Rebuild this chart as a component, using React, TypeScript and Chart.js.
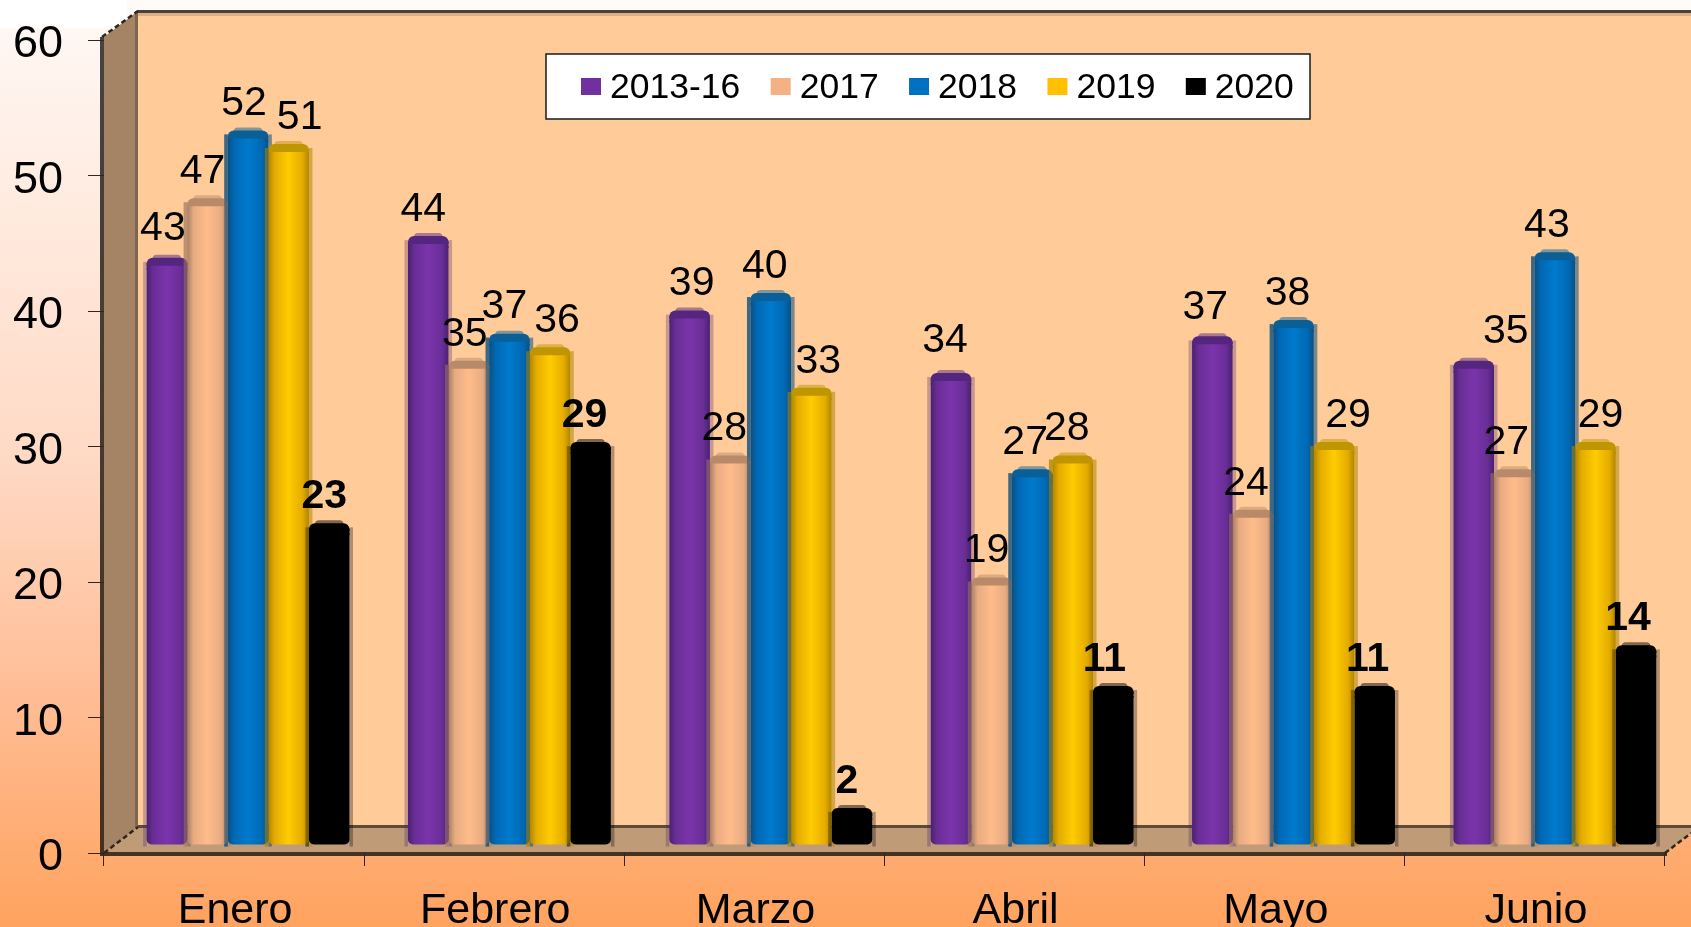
import React, { useEffect, useRef } from "react";
import { Chart, registerables } from "chart.js";

Chart.register(...registerables);

const months = ["Enero", "Febrero", "Marzo", "Abril", "Mayo", "Junio"];
const seriesNames = ["2013-16", "2017", "2018", "2019", "2020"];
const values2013 = [42.6, 44.2, 38.7, 34.1, 36.8, 35];
const values2017 = [47, 35, 28, 19, 24, 27];
const values2018 = [52, 37, 40, 27, 38, 43];
const values2019 = [51, 36, 33, 28, 29, 29];
const values2020 = [23, 29, 2, 11, 11, 14];
const yTicks = [0, 10, 20, 30, 40, 50, 60];

const seriesValues = [values2013, values2017, values2018, values2019, values2020];
const swatches = ["#7030A0", "#F4B183", "#0070C0", "#FFC000", "#000000"];
// edge, shoulder, centre, cap
const shades = [
  ["#4A2170", "#692E96", "#7B34AB", "#55267F"],
  ["#A87F62", "#E8AB82", "#FFBC8A", "#B98A6A"],
  ["#0B4F80", "#0069B5", "#007ACC", "#0A5F96"],
  ["#B08600", "#E5AC00", "#FFCC00", "#BF9500"],
  ["#000000", "#000000", "#000000", "#000000"],
];
const rimAlpha = [0.3, 0.5, 0.55, 0.55, 0.3];
// hand-placed label shifts of the original (per series, per month)
const labelShift = [
  [-4, -5, 2, -6, -7, 32],
  [-5, -4, -6, -5, -7, -8],
  [-4, -5, -6, -7, -6, -8],
  [11, 7, 7, -6, 14, 5],
  [-5, -6, -5, -9, -7, -8],
];
const firstSeriesLabelLift = [3, 0, 0, 6, 2, 3];

const FONT = '"Liberation Sans", Arial, sans-serif';
const SX = 1.0046;
const TX = 12.9;
const DY = -8;
const DEPTH_X = 34;
const DEPTH_Y = 26;

const framePlugin = {
  id: "frame",
  beforeDraw(chart: any) {
    const ctx = chart.ctx;
    const { left, right, top, bottom } = chart.chartArea;
    const W = chart.width;
    ctx.save();
    ctx.fillStyle = "#FFFFFF";
    ctx.fillRect(0, 0, left + 23, 28);
    ctx.fillStyle = "#FFFBF8";
    ctx.fillRect(left + 23, 0, W, 10);
    const backL = left + DEPTH_X;
    const backB = bottom - DEPTH_Y;
    const backT = top - DEPTH_Y - 3;
    // back wall
    ctx.fillStyle = "#FFCC99";
    ctx.fillRect(backL, backT, W - backL, backB - backT);
    ctx.fillStyle = "#E0AE80";
    ctx.fillRect(backL, backT + 2, W - backL, 3);
    ctx.fillStyle = "#46433F";
    ctx.fillRect(backL - 1, backT - 1, W - backL + 1, 3);
    // side wall
    ctx.fillStyle = "#A58465";
    ctx.beginPath();
    ctx.moveTo(left, top - 3);
    ctx.lineTo(backL, backT);
    ctx.lineTo(backL, backB);
    ctx.lineTo(left, bottom);
    ctx.closePath();
    ctx.fill();
    ctx.fillStyle = "#7D6650";
    ctx.fillRect(backL - 3, backT, 3, backB - backT);
    // floor
    ctx.fillStyle = "#BF9B78";
    ctx.beginPath();
    ctx.moveTo(left, bottom);
    ctx.lineTo(backL, backB);
    ctx.lineTo(W, backB);
    ctx.lineTo(W, bottom - (W - right) * (DEPTH_Y / DEPTH_X));
    ctx.lineTo(right, bottom);
    ctx.closePath();
    ctx.fill();
    ctx.fillStyle = "#5E4A38";
    ctx.fillRect(backL, backB - 2, W - backL, 3);
    ctx.fillStyle = "#46301F";
    ctx.fillRect(left - 2, bottom - 1, right - left + 4, 4);
    // front-left edge
    const edge = ctx.createLinearGradient(0, top, 0, bottom);
    edge.addColorStop(0, "#46433F");
    edge.addColorStop(1, "#46301F");
    ctx.fillStyle = edge;
    ctx.fillRect(left - 4, top - 3, 4, bottom - top + 6);
    // corner diagonals
    ctx.strokeStyle = "#2E2620";
    ctx.lineWidth = 2.5;
    ctx.setLineDash([5, 3]);
    ctx.beginPath();
    ctx.moveTo(left, bottom);
    ctx.lineTo(backL, backB);
    ctx.moveTo(left - 2, top - 3);
    ctx.lineTo(backL, backT);
    ctx.moveTo(right, bottom);
    ctx.lineTo(W, bottom - (W - right) * (DEPTH_Y / DEPTH_X));
    ctx.stroke();
    ctx.restore();
  },
};

function rim(ctx: any, el: any, j: number, leftOnly: boolean) {
  const x0 = el.x - el.width / 2;
  const x1 = el.x + el.width / 2;
  ctx.save();
  ctx.globalAlpha = rimAlpha[j];
  ctx.fillStyle = shades[j][0];
  ctx.fillRect(x0 - 3.5, el.y - 6, 3.5, el.base - el.y + 8);
  if (!leftOnly) ctx.fillRect(x1, el.y - 6, 3.5, el.base - el.y + 8);
  ctx.restore();
}

const cylinderPlugin = {
  id: "cylinder",
  beforeDatasetsDraw(chart: any) {
    const ctx = chart.ctx;
    ctx.save();
    ctx.transform(SX, 0, 0, 1, TX, DY);
    chart.data.datasets.forEach((_: any, j: number) => {
      chart.getDatasetMeta(j).data.forEach((el: any) => rim(ctx, el, j, false));
    });
  },
  beforeDatasetDraw(chart: any, args: any) {
    const ctx = chart.ctx;
    const s = shades[args.index];
    args.meta.data.forEach((el: any) => {
      const x0 = el.x - el.width / 2;
      const x1 = el.x + el.width / 2;
      const g = ctx.createLinearGradient(x0, 0, x1, 0);
      g.addColorStop(0, s[0]);
      g.addColorStop(0.16, s[1]);
      g.addColorStop(0.5, s[2]);
      g.addColorStop(0.84, s[1]);
      g.addColorStop(1, s[0]);
      el.options = { ...el.options, backgroundColor: g };
      el.$grad = g;
    });
  },
  afterDatasetDraw(chart: any, args: any) {
    const ctx = chart.ctx;
    const s = shades[args.index];
    args.meta.data.forEach((el: any) => {
      const rx = el.width / 2;
      // faint rim of the top, then the darker band of the lid
      ctx.save();
      ctx.globalAlpha = 0.5;
      ctx.fillStyle = s[3];
      ctx.beginPath();
      ctx.roundRect(el.x - rx + 6, el.y - 13, el.width - 12, 6, [4, 4, 0, 0]);
      ctx.fill();
      ctx.restore();
      ctx.fillStyle = el.$grad;
      ctx.fillRect(el.x - rx, el.y - 5, el.width, 7);
      ctx.fillStyle = s[3];
      ctx.beginPath();
      ctx.roundRect(el.x - rx, el.y - 10, el.width, 8, [6, 6, 0, 0]);
      ctx.fill();
    });
  },
  afterDatasetsDraw(chart: any) {
    const ctx = chart.ctx;
    for (let j = 1; j < chart.data.datasets.length; j++) {
      chart.getDatasetMeta(j).data.forEach((el: any) => rim(ctx, el, j, true));
    }
    ctx.restore();
    ctx.save();
    ctx.textAlign = "center";
    ctx.textBaseline = "middle";
    ctx.fillStyle = "#000000";
    chart.data.datasets.forEach((ds: any, j: number) => {
      const meta = chart.getDatasetMeta(j);
      ctx.font = `${j === 4 ? "bold " : ""}41px ${FONT}`;
      meta.data.forEach((el: any, i: number) => {
        const lift = j === 0 ? firstSeriesLabelLift[i] : 0;
        ctx.fillText(String(Math.round(ds.data[i])), SX * el.x + TX + labelShift[j][i], el.y + DY - 36.5 - lift);
      });
    });
    ctx.restore();
    // legend
    const box = { l: 546, t: 54, w: 764, h: 65 };
    ctx.save();
    ctx.fillStyle = "#FFFFFF";
    ctx.fillRect(box.l, box.t, box.w, box.h);
    ctx.strokeStyle = "#1A1A1A";
    ctx.lineWidth = 1.5;
    ctx.strokeRect(box.l, box.t, box.w, box.h);
    let x = 581;
    ctx.font = `35.5px ${FONT}`;
    ctx.textBaseline = "middle";
    ctx.textAlign = "left";
    chart.data.datasets.forEach((ds: any, j: number) => {
      ctx.fillStyle = swatches[j];
      ctx.fillRect(x, 78, 20, 17);
      ctx.fillStyle = "#000000";
      ctx.fillText(ds.label, x + 29, 88);
      x += 29 + ctx.measureText(ds.label).width + 30.4;
    });
    ctx.restore();
  },
};

export default function App() {
  const ref = useRef<HTMLCanvasElement>(null);
  useEffect(() => {
    document.body.style.margin = "0";
    const chart = new Chart(ref.current as any, {
      type: "bar",
      data: {
        labels: months,
        datasets: seriesNames.map((name, j) => ({
          label: name,
          data: seriesValues[j],
          backgroundColor: swatches[j],
          borderWidth: 0,
          borderSkipped: false,
          borderRadius: { topLeft: 0, topRight: 0, bottomLeft: 5, bottomRight: 5 },
          clip: false as any,
        })),
      },
      options: {
        responsive: false,
        animation: false,
        layout: { padding: { left: 0, right: 26, top: 40, bottom: 0 } },
        datasets: { bar: { categoryPercentage: 0.7763, barPercentage: 1 } } as any,
        plugins: { legend: { display: false }, tooltip: { enabled: false } },
        scales: {
          x: {
            offset: true,
            grid: { drawOnChartArea: false, tickLength: 13, tickColor: "#2E2620", offset: true },
            border: { display: false },
            ticks: { color: "#000000", font: { family: FONT, size: 43 }, padding: 19, maxRotation: 0, labelOffset: 1 },
            afterFit: (s: any) => { s.height = 74; s.paddingLeft = 0; s.paddingRight = 0; },
          },
          y: {
            min: 0,
            max: 60,
            afterBuildTicks: (s: any) => { s.ticks = yTicks.map((v) => ({ value: v })); },
            grid: { drawOnChartArea: false, tickLength: 16, tickColor: "#2E2620" },
            border: { display: false },
            ticks: { color: "#000000", font: { family: FONT, size: 45 }, padding: 25, labelOffset: 5 },
            afterFit: (s: any) => { s.width = 104; s.paddingTop = 0; s.paddingBottom = 0; },
          },
        },
      },
      plugins: [framePlugin, cylinderPlugin],
    } as any);
    return () => chart.destroy();
  }, []);
  return (
    <div
      style={{
        position: "fixed",
        left: 0,
        top: 0,
        width: 1691,
        height: 927,
        overflow: "hidden",
        background: "linear-gradient(180deg,#FFF9F6 0%,#FFD9C4 50%,#FFBD95 75%,#FFA35F 100%)",
      }}
    >
      <canvas ref={ref} width={1691} height={927} style={{ display: "block" }} />
    </div>
  );
}
